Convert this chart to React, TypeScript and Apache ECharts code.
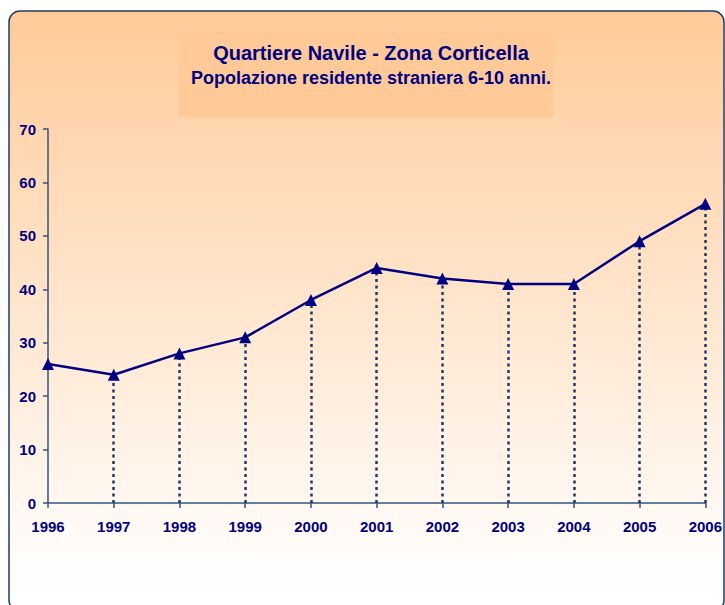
import React, { useEffect, useRef } from "react";
import * as echarts from "echarts";

const categories = ["1996", "1997", "1998", "1999", "2000", "2001", "2002", "2003", "2004", "2005", "2006"];
const values = [26, 24, 28, 31, 38, 44, 42, 41, 41, 49, 56];
const titleText = "Quartiere Navile - Zona Corticella";
const subtitleText = "Popolazione residente straniera 6-10 anni.";

const NAVY = "#000080";
const AXIS = "#34557A";
const FONT = "Liberation Sans, Arial, sans-serif";

export default function App() {
  const ref = useRef<HTMLDivElement>(null);
  useEffect(() => {
    if (!ref.current) return;
    const chart = echarts.init(ref.current, undefined, { renderer: "svg" });
    const drops = values
      .map((v, i) => [{ coord: [categories[i], 0] }, { coord: [categories[i], v] }])
      .filter((_, i) => i > 0);
    chart.setOption({
      animation: false,
      backgroundColor: "#ffffff",
      graphic: [
        {
          type: "rect",
          z: -10,
          silent: true,
          shape: { x: 9, y: 11, width: 715, height: 600, r: 11 },
          style: {
            fill: new echarts.graphic.LinearGradient(0, 0, 0, 1, [
              { offset: 0, color: "#FFCB99" },
              { offset: 0.92, color: "#FFFDFB" },
              { offset: 1, color: "#FFFFFF" },
            ]),
            stroke: "#1F3B64",
            lineWidth: 1.5,
          },
        },
        {
          type: "rect",
          z: -9,
          silent: true,
          shape: { x: 179, y: 30, width: 374, height: 87 },
          style: { fill: "#FFCA98" },
        },
      ],
      title: [
        {
          text: titleText,
          left: 366,
          top: 38,
          textAlign: "center",
          textStyle: { color: NAVY, fontSize: 20, fontWeight: "bold", fontFamily: FONT },
        },
        {
          text: subtitleText,
          left: 366,
          top: 64,
          textAlign: "center",
          textStyle: { color: NAVY, fontSize: 18, fontWeight: "bold", fontFamily: FONT },
        },
      ],
      grid: { left: 48, right: 17, top: 129, bottom: 102, containLabel: false },
      xAxis: {
        type: "category",
        data: categories,
        boundaryGap: false,
        axisLine: { lineStyle: { color: AXIS, width: 1.5 } },
        axisTick: { show: true, length: 5, lineStyle: { color: AXIS, width: 1.5 } },
        axisLabel: { color: NAVY, fontSize: 15, fontWeight: "bold", fontFamily: FONT, margin: 16 },
        splitLine: { show: false },
      },
      yAxis: {
        type: "value",
        min: 0,
        max: 70,
        interval: 10,
        axisLine: { show: true, lineStyle: { color: AXIS, width: 1.5 } },
        axisTick: { show: true, length: 5, lineStyle: { color: AXIS, width: 1.5 } },
        axisLabel: { color: NAVY, fontSize: 15, fontWeight: "bold", fontFamily: FONT, margin: 12 },
        splitLine: { show: false },
      },
      series: [
        {
          type: "line",
          data: values,
          symbol: "triangle",
          symbolSize: 12,
          itemStyle: { color: NAVY },
          lineStyle: { color: NAVY, width: 2.5 },
          z: 5,
          markLine: {
            silent: true,
            symbol: ["none", "none"],
            label: { show: false },
            lineStyle: { type: [3, 3.5], color: "#1F3A68", width: 2.5 },
            data: drops,
            z: 2,
          },
        },
      ],
    });
    return () => chart.dispose();
  }, []);
  return <div ref={ref} style={{ width: 725, height: 605, position: "fixed", left: 0, top: 0 }} />;
}
